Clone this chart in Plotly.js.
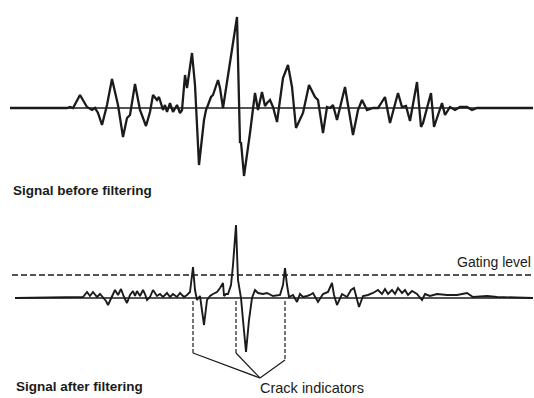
<!DOCTYPE html>
<html><head><meta charset="utf-8">
<script src="https://cdn.plot.ly/plotly-3.0.1.min.js"></script>
<style>html,body{margin:0;padding:0;background:#fff}#chart{width:534px;height:398px}</style>
</head><body><div id="chart"></div>
<script>
// Signal before filtering (sample position, amplitude)
const beforeX = [10,65,67,70,73,80,87,92,95,98,102,107,112,118,123,127,130,135,140,146,150,153,157,159,163,165,167,170,173,177,180,182,185,187,192,195,199,204,206,208,211,213,218,220,223,237,240,241,244,250,255,258,262,265,267,270,273,277,283,288,292,296,302,303,309,315,318,323,327,330,333,337,345,353,358,362,367,373,378,385,390,398,402,406,410,417,421,423,431,434,442,445,450,455,460,467,472,477,533];
const beforeY = [0,0,0,1,0,13,1,-2,0,-5,-17,3,29,3,-29,-10,-7,24,-2,-18,-4,13,8,11,-2,3,-4,5,-4,3,-5,-2,33,20,55,23,-57,-12,-2,3,11,13,28,20,0,91,-35,-34,-68,-25,15,-2,16,2,5,8,1,-14,30,43,21,-20,-7,-5,23,11,8,-25,1,0,3,-12,21,-27,-2,8,-2,0,0,11,-15,15,1,2,-13,26,-19,-15,15,-19,5,-7,1,-2,1,1,-2,0,0];

// Signal after filtering
const afterX = [15,83,87,90,93,97,100,103,106,108,112,115,118,121,124,127,130,133,135,137,140,143,145,147,150,153,157,160,163,167,170,173,177,180,184,187,190,193,195,197,200,204,207,210,213,217,220,223,224,226,228,231,233,236,238,241,243,246,249,252,255,258,263,267,273,280,283,285,287,289,293,297,300,303,307,310,313,318,323,328,332,334,337,342,347,351,354,357,359,363,368,373,378,382,385,388,392,395,398,402,405,408,412,417,422,425,430,437,447,457,467,473,487,497,533];
const afterY = [0,1,6,2,6,1,4,0,-3,-7,1,8,3,9,1,-5,3,7,2,7,2,8,4,-2,1,8,2,4,1,5,1,4,1,5,1,3,6,31,8,-2,2,-27,-2,2,4,6,10,15,2,4,4,13,33,73,18,0,-22,-54,-22,0,8,5,4,5,2,3,13,30,13,1,3,-4,4,1,2,3,5,-4,4,6,15,3,-7,4,1,8,10,-2,-9,2,3,5,8,4,9,4,8,4,10,5,8,3,7,4,-2,4,2,4,3,3,5,1,2,1,0];

const gatingLevel = 23;
const crackDrop = [-55, -55, -62];
const crackJoin = {x: 260, y: -80};

const labelBefore = "Signal before filtering";
const labelAfter = "Signal after filtering";
const labelGate = "Gating level";
const labelCrack = "Crack indicators";

const ink = "#1b1b1b";

// crack indicators: local maxima above the gating level
const crackX = [];
for (let i = 1; i < afterY.length - 1; i++) {
  if (afterY[i] > gatingLevel && afterY[i] >= afterY[i-1] && afterY[i] >= afterY[i+1]) crackX.push(afterX[i]);
}

const shapes = [
  {type:'line', xref:'x', yref:'y', x0:beforeX[0], x1:beforeX[beforeX.length-1], y0:0, y1:0, line:{color:ink, width:1.7}},
  {type:'line', xref:'x', yref:'y2', x0:afterX[0], x1:afterX[afterX.length-1], y0:0, y1:0, line:{color:ink, width:1.7}},
  {type:'line', xref:'x', yref:'y2', x0:12, x1:534, y0:gatingLevel, y1:gatingLevel, line:{color:ink, width:1.5, dash:'6px,3px'}}
];
crackX.forEach((cx, i) => {
  shapes.push({type:'line', xref:'x', yref:'y2', x0:cx, x1:cx, y0:-3, y1:crackDrop[i], line:{color:ink, width:1.2, dash:'4px,2px'}});
  shapes.push({type:'line', xref:'x', yref:'y2', x0:cx, x1:crackJoin.x, y0:crackDrop[i], y1:crackJoin.y, line:{color:ink, width:1.2}});
});

const traces = [
  {x: beforeX, y: beforeY, xaxis:'x', yaxis:'y', mode:'lines', line:{color:ink, width:2.3}, hoverinfo:'skip'},
  {x: afterX, y: afterY, xaxis:'x', yaxis:'y2', mode:'lines', line:{color:ink, width:1.9}, hoverinfo:'skip'}
];

const boldFont = {family:'"Liberation Sans", Arial, sans-serif', size:13.5, color:ink, weight:'bold'};
const regFont = {family:'"Liberation Sans", Arial, sans-serif', size:14.5, color:ink};
const gateFont = {family:'"Liberation Sans", Arial, sans-serif', size:14, color:ink};

const layout = {
  width:534, height:398,
  margin:{l:0, r:0, t:0, b:0},
  paper_bgcolor:'#fff', plot_bgcolor:'#fff',
  showlegend:false,
  xaxis:{range:[0,534], visible:false, fixedrange:true},
  yaxis:{domain:[0.5,1], range:[-91,108], visible:false, fixedrange:true},
  yaxis2:{domain:[0,0.5], range:[-100,99], visible:false, fixedrange:true, anchor:'x'},
  shapes: shapes,
  annotations:[
    {xref:'x', yref:'y', x:11, y:-82, text:'<b>'+labelBefore+'</b>', showarrow:false, xanchor:'left', yanchor:'middle', font:boldFont},
    {xref:'x', yref:'y2', x:14, y:-88, text:'<b>'+labelAfter+'</b>', showarrow:false, xanchor:'left', yanchor:'middle', font:boldFont},
    {xref:'paper', yref:'y2', x:0.998, y:36, text:labelGate, showarrow:false, xanchor:'right', yanchor:'middle', font:gateFont},
    {xref:'x', yref:'y2', x:258, y:-90, text:labelCrack, showarrow:false, xanchor:'left', yanchor:'middle', font:regFont}
  ]
};

Plotly.newPlot('chart', traces, layout, {staticPlot:true, displayModeBar:false});
</script>
</body></html>
